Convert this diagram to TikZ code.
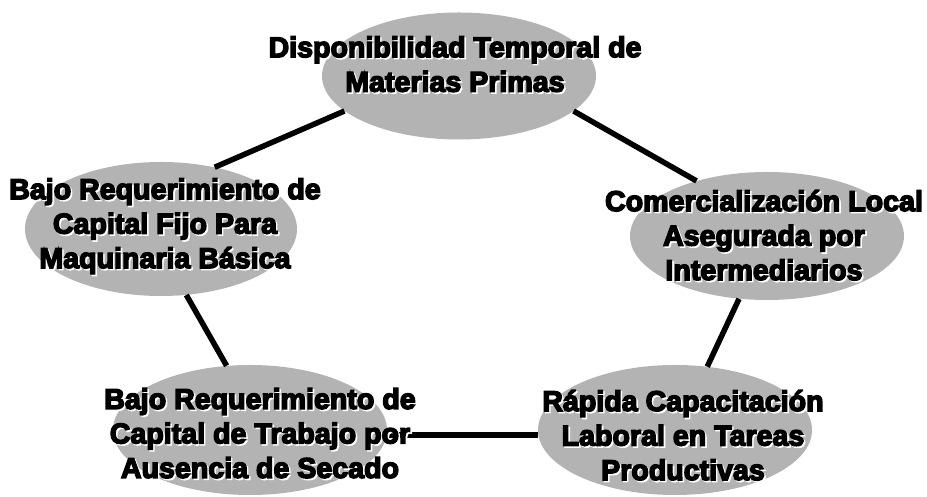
\documentclass[tikz,border=0pt]{standalone}
\usepackage{fontspec}
\newfontfamily\heavy{Liberation Sans}[BoldFeatures={FakeBold=5}]
\usetikzlibrary{shapes.geometric}
\definecolor{ellgray}{RGB}{179,179,179}
\newcommand{\shl}[1]{\makebox[0pt][l]{\hspace{1.6pt}\raisebox{-1.6pt}{\color{white}#1}}#1}
\tikzset{
  ell/.style={ellipse, fill=ellgray, draw=none, inner sep=0pt, minimum width=274pt, minimum height=127pt},
  link/.style={line width=5.5pt, black},
  lbl/.style={align=center, inner sep=0pt, font=\heavy\bfseries\fontsize{28.6}{34.5}\selectfont, text=black}
}
\begin{document}
\begin{tikzpicture}[x=1pt,y=1pt]
\useasboundingbox (0,0) rectangle (927,497);
% ellipses
\node[ell] (A) at (459,421) {};
\node[ell, minimum width=272pt, minimum height=134pt] (B) at (161,268) {};
\node[ell, minimum height=128pt] (C) at (767,261) {};
\node[ell, minimum height=130pt] (D) at (250,67) {};
\node[ell, minimum height=130pt] (E) at (675,67) {};
% connectors
\draw[link] (A.197) -- (B.49);
\draw[link] (A.343) -- (C.142);
\draw[link] (C.246) -- (E.63);
\draw[link] (B.291) -- (D.110);
\draw[link] (D.358) -- (E.182);
% labels with white shadow
\node[lbl] (At) at (455,432) {\shl{Disponibilidad Temporal de}\\\shl{Materias Primas}};
\node[lbl] (Bt) at (165,270) {\shl{Bajo Requerimiento de}\\\shl{Capital Fijo Para}\\\shl{Maquinaria Básica}};
\node[lbl] (Ct) at (764,261) {\shl{Comercialización Local}\\\shl{Asegurada por}\\\shl{Intermediarios}};
\node[lbl] (Dt) at (260,63) {\shl{Bajo Requerimiento de}\\\shl{Capital de Trabajo por}\\\shl{Ausencia de Secado}};
\node[lbl] (Et) at (683,61) {\shl{Rápida Capacitación}\\\shl{Laboral en Tareas}\\\shl{Productivas}};
\end{tikzpicture}
\end{document}
